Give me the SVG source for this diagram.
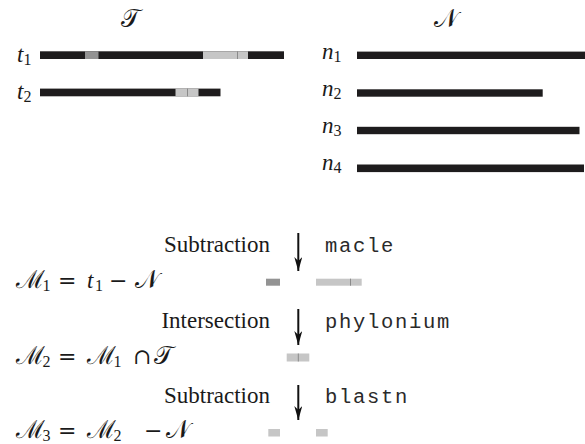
<svg xmlns="http://www.w3.org/2000/svg" width="585" height="444" viewBox="0 0 585 444">
<defs>
<style>
.bk{fill:#1e1c1d}
.dg{fill:#939393}
.lg{fill:#c6c6c6}
.tk{stroke:#8a8a8a;stroke-width:1}
.m{font-family:"Liberation Serif","DejaVu Serif",serif;font-size:23px;fill:#1a1a1a}
.i{font-style:italic}
.sc{font-family:"Lato","Inter",serif;font-style:normal;font-size:25px}
.op{font-family:"DejaVu Serif",serif;font-size:22px}
.s{font-size:16px}
.lab{font-family:"Liberation Serif",serif;font-size:23px;fill:#1a1a1a;text-anchor:end}
.tt{font-family:"Liberation Mono",monospace;font-size:20.5px;letter-spacing:1.7px;fill:#2a2a2a}
.ar{stroke:#111;stroke-width:2;fill:none}
</style>
<marker id="ah" viewBox="0 0 14 8" refX="14" refY="4" markerWidth="14" markerHeight="8" markerUnits="userSpaceOnUse" orient="auto"><path d="M0,0 L14,4 L0,8 L4,4 Z" fill="#111"/></marker>
</defs>

<g id="title-T"><text class="m sc" x="130" y="27" text-anchor="middle">𝒯</text></g>
<g id="title-N"><text class="m sc" x="446" y="27" text-anchor="middle">𝒩</text></g>

<g id="t1">
<text class="m" x="17" y="62"><tspan class="i">t</tspan><tspan class="s" dy="3">1</tspan></text>
<rect class="bk" x="40" y="51.3" width="244" height="7.7"/>
<rect class="dg" x="85" y="51.3" width="13.5" height="7.7"/>
<rect class="lg" x="203" y="51.3" width="45" height="7.7"/>
<line class="tk" x1="237.5" y1="51.3" x2="237.5" y2="59"/>
</g>
<g id="t2">
<text class="m" x="17" y="98.5"><tspan class="i">t</tspan><tspan class="s" dy="3">2</tspan></text>
<rect class="bk" x="40" y="88.6" width="180.5" height="7.7"/>
<rect class="lg" x="175.5" y="88.6" width="23" height="7.7"/>
<line class="tk" x1="187.5" y1="88.6" x2="187.5" y2="96.3"/>
</g>

<g id="n1">
<text class="m" x="322" y="58.5"><tspan class="i">n</tspan><tspan class="s" dy="3">1</tspan></text>
<rect class="bk" x="357" y="51.6" width="228" height="7.4"/>
</g>
<g id="n2">
<text class="m" x="322" y="95.5"><tspan class="i">n</tspan><tspan class="s" dy="3">2</tspan></text>
<rect class="bk" x="357" y="89.3" width="185.7" height="7.4"/>
</g>
<g id="n3">
<text class="m" x="322" y="132.5"><tspan class="i">n</tspan><tspan class="s" dy="3">3</tspan></text>
<rect class="bk" x="357" y="126.8" width="222.5" height="7.4"/>
</g>
<g id="n4">
<text class="m" x="322" y="170"><tspan class="i">n</tspan><tspan class="s" dy="3">4</tspan></text>
<rect class="bk" x="357" y="164.5" width="227" height="7.6"/>
</g>

<g id="connectors">
<line class="ar" x1="298.3" y1="233" x2="298.3" y2="271" marker-end="url(#ah)"/>
<line class="ar" x1="298.3" y1="309" x2="298.3" y2="345" marker-end="url(#ah)"/>
<line class="ar" x1="298.3" y1="385" x2="298.3" y2="420" marker-end="url(#ah)"/>
</g>

<g id="step1">
<text class="lab" x="270" y="252">Subtraction</text>
<text class="tt" x="325" y="252">macle</text>
</g>
<g id="M1">
<text class="m" y="288"><tspan class="sc" x="16">ℳ</tspan><tspan class="s" x="42.5" dy="3">1</tspan><tspan class="op" x="58" dy="-3">=</tspan><tspan class="i" x="87">t</tspan><tspan class="s" x="95" dy="3">1</tspan><tspan class="op" x="109" dy="-3">−</tspan><tspan class="sc" x="135">𝒩</tspan></text>
<rect class="dg" x="266" y="278.7" width="14" height="7"/>
<rect class="lg" x="316" y="278.7" width="45.7" height="7"/>
<line class="tk" x1="350.5" y1="278.7" x2="350.5" y2="285.7"/>
</g>

<g id="step2">
<text class="lab" x="270" y="328">Intersection</text>
<text class="tt" x="325" y="328">phylonium</text>
</g>
<g id="M2">
<text class="m" y="364"><tspan class="sc" x="16">ℳ</tspan><tspan class="s" x="42.5" dy="3">2</tspan><tspan class="op" x="58" dy="-3">=</tspan><tspan class="sc" x="87">ℳ</tspan><tspan class="s" x="113.5" dy="3">1</tspan><tspan class="op" x="133" dy="-3">∩</tspan><tspan class="sc" x="154">𝒯</tspan></text>
<rect class="lg" x="286.7" y="353.5" width="22.6" height="8"/>
<line class="tk" x1="298.3" y1="353.5" x2="298.3" y2="361.5"/>
</g>

<g id="step3">
<text class="lab" x="270" y="403">Subtraction</text>
<text class="tt" x="325" y="403">blastn</text>
</g>
<g id="M3">
<text class="m" y="438"><tspan class="sc" x="16">ℳ</tspan><tspan class="s" x="42.5" dy="3">3</tspan><tspan class="op" x="58" dy="-3">=</tspan><tspan class="sc" x="87">ℳ</tspan><tspan class="s" x="113.5" dy="3">2</tspan><tspan class="op" x="144" dy="-3">−</tspan><tspan class="sc" x="166">𝒩</tspan></text>
<rect class="lg" x="268.3" y="429" width="11.7" height="7.5"/>
<rect class="lg" x="316" y="429" width="11.7" height="7.5"/>
</g>
</svg>
